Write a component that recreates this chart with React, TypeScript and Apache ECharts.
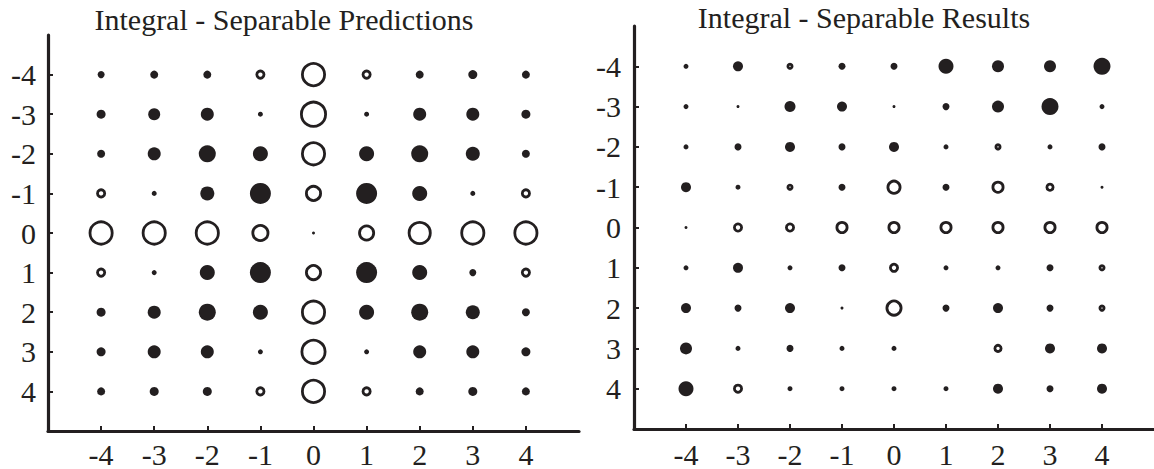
import React, { useEffect, useRef } from "react";
import * as echarts from "echarts";

// Tick values shown on both axes
const X_TICKS = [-4, -3, -2, -1, 0, 1, 2, 3, 4];
const Y_TICKS = [-4, -3, -2, -1, 0, 1, 2, 3, 4];

// Marker magnitude per cell, rows y = -4..4, columns x = -4..4.
// Positive = filled dot, negative = open circle, 0 = no marker.
const PREDICTIONS: number[][] = [
  [7, 8, 8, -10, -25, -10, 8, 9, 8],
  [9, 12, 13, 5, -27, 5, 13, 13, 9],
  [8, 13, 17, 15, -25, 15, 17, 14, 8],
  [-10, 5, 14, 21, -17, 21, 15, 5, -10],
  [-25, -25, -25, -18, 3, -17, -24, -25, -25],
  [-10, 5, 15, 21, -17, 21, 15, 7, -10],
  [9, 13, 17, 15, -25, 15, 17, 14, 8],
  [9, 13, 13, 5, -26, 5, 13, 13, 9],
  [8, 9, 9, -10, -25, -10, 8, 9, 8],
];

const RESULTS: number[][] = [
  [5, 10, -7, 7, 7, 15, 12, 12, 17],
  [5, 3, 11, 10, 3, 7, 12, 17, 5],
  [5, 7, 10, 7, 10, 5, -7, 5, 7],
  [10, 5, -7, 7, -15, 7, -13, -9, 3],
  [3, -10, -10, -13, -13, -13, -13, -13, -13],
  [5, 10, 5, 7, -10, 5, 5, 7, -7],
  [10, 7, 10, 3, -17, 7, 10, 7, -7],
  [12, 5, 7, 5, 5, 0, -9, 10, 10],
  [15, -10, 5, 5, 5, 5, 10, 7, 10],
];

const TITLES = ["Integral - Separable Predictions", "Integral - Separable Results"];

const INK = "#231f20";
const FONT = "'Liberation Serif', 'DejaVu Serif', serif";
const RING = 2.8;

function cells(rows: number[][], filled: boolean) {
  const out: number[][] = [];
  rows.forEach((row, r) => {
    row.forEach((v, c) => {
      if (v === 0) return;
      if (filled && v > 0) out.push([X_TICKS[c], Y_TICKS[r], v]);
      if (!filled && v < 0) out.push([X_TICKS[c], Y_TICKS[r], -v]);
    });
  });
  return out;
}

export default function App() {
  const ref = useRef<HTMLDivElement>(null);
  useEffect(() => {
    document.body.style.margin = "0";
    const chart = echarts.init(ref.current!, null, { renderer: "svg" });
    const grids = [
      { left: 48, top: 35, width: 531, height: 397 },
      { left: 634, top: 26, width: 520, height: 410 },
    ];
    const titleCenters = [284, 864];
    const axisCommon = (ticks: number[], margin: number) => ({
      type: "value",
      min: -5,
      max: 5,
      interval: 1,
      axisLine: { show: true, onZero: false, lineStyle: { color: INK, width: 3.2 } },
      axisTick: {
        show: true,
        inside: true,
        length: 5,
        customValues: ticks,
        lineStyle: { color: INK, width: 2 },
      },
      axisLabel: {
        customValues: ticks,
        fontFamily: FONT,
        fontSize: 30,
        color: INK,
        margin,
      },
      splitLine: { show: false },
    });
    const series: any[] = [];
    [PREDICTIONS, RESULTS].forEach((rows, i) => {
      series.push({
        type: "scatter",
        xAxisIndex: i,
        yAxisIndex: i,
        symbol: "circle",
        data: cells(rows, false),
        symbolSize: (v: number[]) => Math.max(v[2] - RING, 1),
        itemStyle: { color: "#ffffff", borderColor: INK, borderWidth: RING, opacity: 1 },
        emphasis: { disabled: true },
      });
      series.push({
        type: "scatter",
        xAxisIndex: i,
        yAxisIndex: i,
        symbol: "circle",
        data: cells(rows, true),
        symbolSize: (v: number[]) => v[2],
        itemStyle: { color: INK, opacity: 1 },
        emphasis: { disabled: true },
      });
    });
    chart.setOption({
      animation: false,
      backgroundColor: "#ffffff",
      title: TITLES.map((t, i) => ({
        text: t,
        left: titleCenters[i],
        textAlign: "center",
        top: i === 0 ? 4 : 2,
        padding: 0,
        textStyle: { fontFamily: FONT, fontSize: 30, fontWeight: "normal", color: INK },
      })),
      grid: grids,
      xAxis: [
        { ...axisCommon(X_TICKS, 8), gridIndex: 0, position: "bottom" },
        { ...axisCommon(X_TICKS, 10), gridIndex: 1, position: "bottom" },
      ],
      yAxis: [
        { ...axisCommon(Y_TICKS, 12), gridIndex: 0, inverse: true, position: "left" },
        { ...axisCommon(Y_TICKS, 13), gridIndex: 1, inverse: true, position: "left" },
      ],
      series,
    });
    return () => chart.dispose();
  }, []);
  return (
    <div
      ref={ref}
      style={{ position: "fixed", left: 0, top: 0, width: 1154, height: 469, background: "#fff" }}
    />
  );
}
